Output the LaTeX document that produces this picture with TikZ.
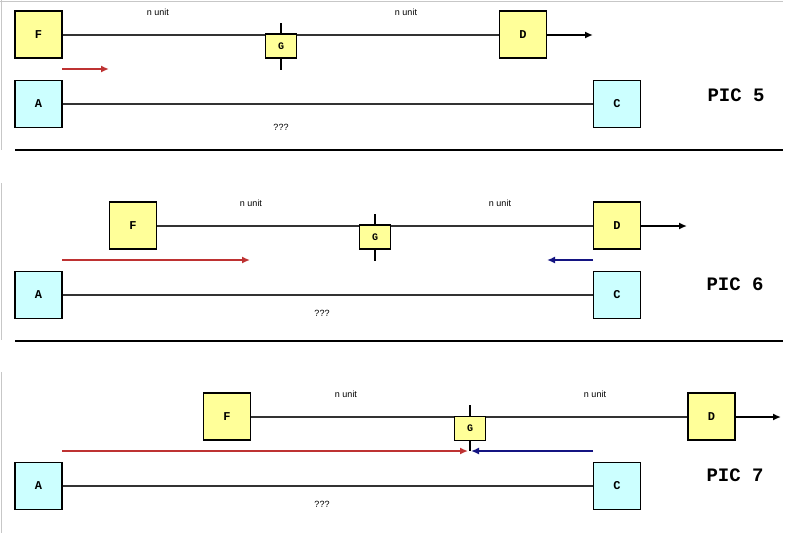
\documentclass[tikz,border=0pt]{standalone}
\usepackage{fontspec}
\setmainfont{Liberation Serif}
\newfontfamily\monob{Liberation Mono}
\newfontfamily\arialf{Liberation Sans}
\usetikzlibrary{arrows.meta}
\definecolor{boxyellow}{RGB}{255,255,153}
\definecolor{boxcyan}{RGB}{204,255,255}
\definecolor{arrred}{RGB}{190,50,50}
\definecolor{arrblue}{RGB}{20,20,130}
\tikzset{
  ybox/.style={draw=black, line width=1.6pt, fill=boxyellow, minimum width=47pt, minimum height=47pt, inner sep=0pt, font=\monob\bfseries\fontsize{12}{12}\selectfont},
  cbox/.style={draw=black, line width=1.6pt, fill=boxcyan, minimum width=47pt, minimum height=47pt, inner sep=0pt, font=\monob\bfseries\fontsize{12}{12}\selectfont},
  gbox/.style={draw=black, line width=1.6pt, fill=boxyellow, minimum width=31pt, minimum height=24pt, inner sep=0pt, font=\monob\bfseries\fontsize{10}{10}\selectfont},
  thinline/.style={line width=1.1pt, draw=black!80},
  tick/.style={line width=2.2pt},
  outarrow/.style={line width=2pt, -{Latex[length=8pt,width=7pt]}},
  redarrow/.style={line width=2.2pt, draw=arrred, -{Latex[length=8pt,width=7pt]}},
  bluearrow/.style={line width=2.2pt, draw=arrblue, -{Latex[length=8pt,width=7pt]}},
  unitlbl/.style={font=\arialf\fontsize{9}{9}\selectfont, inner sep=0pt},
  piclbl/.style={font=\monob\bfseries\fontsize{19}{19}\selectfont, inner sep=0pt},
  sep/.style={line width=2pt},
  frame/.style={line width=1pt, draw=black!22}
}
\begin{document}
\begin{tikzpicture}[x=1pt,y=-1pt]
\useasboundingbox (0,0) rectangle (800,533);
\fill[white] (0,0) rectangle (800,533);
% faint frame lines
\draw[frame] (0,1) -- (783,1);
\draw[frame] (1,0) -- (1,150);
\draw[frame] (1,183) -- (1,340);
\draw[frame] (1,372) -- (1,533);

% ===== PIC 5 =====
\node[ybox] (F5) at (38.5,34.5) {F};
\node[ybox] (D5) at (523,34.5) {D};
\draw[thinline] (F5.east |- 0,35) -- (D5.west |- 0,35);
\node[gbox] (G5) at (281,46) {G};
\coordinate (G5t) at (281,23);
\coordinate (G5b) at (281,70);
\draw[tick] (G5t) -- (G5.north);
\draw[tick] (G5.south) -- (G5b);
\coordinate (D5e) at (593,35);
\draw[outarrow] (D5.east |- 0,35) -- (D5e);
\coordinate (R5s) at (62,69);
\coordinate (R5e) at (109,69);
\draw[redarrow] (R5s) -- (R5e);
\node[cbox] (A5) at (38.5,104) {A};
\node[cbox] (C5) at (617,104) {C};
\draw[thinline] (A5.east) -- (C5.west);
\node[unitlbl] (U5a) at (158,12) {n unit};
\node[unitlbl] (U5b) at (406,12) {n unit};
\node[unitlbl] (Q5) at (281,127) {???};
\node[piclbl] (P5) at (736,95) {PIC 5};
\coordinate (S5a) at (15,150);
\coordinate (S5b) at (783,150);
\draw[sep] (S5a) -- (S5b);

% ===== PIC 6 =====
\node[ybox] (F6) at (133,225.5) {F};
\node[ybox] (D6) at (617,225.5) {D};
\draw[thinline] (F6.east |- 0,226) -- (D6.west |- 0,226);
\node[gbox] (G6) at (375,237) {G};
\coordinate (G6t) at (375,214);
\coordinate (G6b) at (375,261);
\draw[tick] (G6t) -- (G6.north);
\draw[tick] (G6.south) -- (G6b);
\coordinate (D6e) at (687,226);
\draw[outarrow] (D6.east |- 0,226) -- (D6e);
\coordinate (R6s) at (62,260);
\coordinate (R6e) at (250,260);
\draw[redarrow] (R6s) -- (R6e);
\coordinate (B6s) at (593,260);
\coordinate (B6e) at (547,260);
\draw[bluearrow] (B6s) -- (B6e);
\node[cbox] (A6) at (38.5,295) {A};
\node[cbox] (C6) at (617,295) {C};
\draw[thinline] (A6.east) -- (C6.west);
\node[unitlbl] (U6a) at (251,203) {n unit};
\node[unitlbl] (U6b) at (500,203) {n unit};
\node[unitlbl] (Q6) at (322,313) {???};
\node[piclbl] (P6) at (735,284) {PIC 6};
\coordinate (S6a) at (15,341);
\coordinate (S6b) at (783,341);
\draw[sep] (S6a) -- (S6b);

% ===== PIC 7 =====
\node[ybox] (F7) at (227,416.5) {F};
\node[ybox] (D7) at (711.5,416.5) {D};
\draw[thinline] (F7.east |- 0,417) -- (D7.west |- 0,417);
\node[gbox] (G7) at (470,428.5) {G};
\coordinate (G7t) at (470,405);
\coordinate (G7b) at (470,451);
\draw[tick] (G7t) -- (G7.north);
\draw[tick] (G7.south) -- (G7b);
\coordinate (D7e) at (781,417);
\draw[outarrow] (D7.east |- 0,417) -- (D7e);
\coordinate (R7s) at (62,451);
\coordinate (R7e) at (468,451);
\draw[redarrow] (R7s) -- (R7e);
\coordinate (B7s) at (593,451);
\coordinate (B7e) at (471,451);
\draw[bluearrow] (B7s) -- (B7e);
\node[cbox] (A7) at (38.5,486) {A};
\node[cbox] (C7) at (617,486) {C};
\draw[thinline] (A7.east) -- (C7.west);
\node[unitlbl] (U7a) at (346,394) {n unit};
\node[unitlbl] (U7b) at (595,394) {n unit};
\node[unitlbl] (Q7) at (322,504) {???};
\node[piclbl] (P7) at (735,475) {PIC 7};
\end{tikzpicture}
\end{document}
